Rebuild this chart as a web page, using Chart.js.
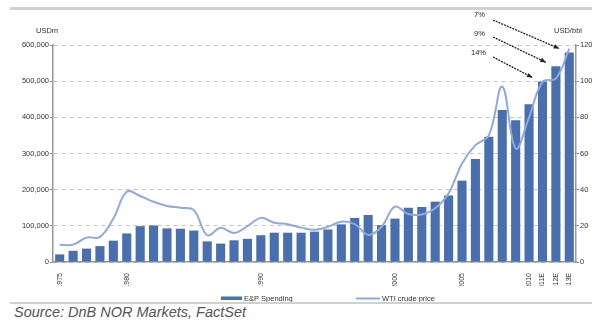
<!DOCTYPE html>
<html>
<head>
<meta charset="utf-8">
<script src="https://cdn.jsdelivr.net/npm/chart.js@4.4.0/dist/chart.umd.min.js"></script>
<style>
  body { margin: 0; background: #fff; width: 592px; height: 322px; overflow: hidden; position: relative; }
  #chart { position: absolute; left: 0; top: 0; }
  .rule { position: absolute; left: 10px; width: 582px; background: #d0d0d0; }
  #src { position: absolute; left: 14px; top: 304px; font: italic 14.5px "Liberation Sans", Arial, sans-serif; color: #555; }
</style>
</head>
<body>
<div class="rule" style="top:7px;height:3px"></div>
<canvas id="chart" width="592" height="302"></canvas>
<div class="rule" style="top:302px;height:2px"></div>
<div id="src">Source: DnB NOR Markets, FactSet</div>
<script>
const years = ['1975','1976','1977','1978','1979','1980','1981','1982','1983','1984',
  '1985','1986','1987','1988','1989','1990','1991','1992','1993','1994',
  '1995','1996','1997','1998','1999','2000','2001','2002','2003','2004',
  '2005','2006','2007','2008','2009','2010','2011E','2012E','2013E'];
const shownYears = ['1975','1980','1990','2000','2005','2010','2011E','2012E','2013E'];

// E&P spending, USDm
const spending = [21000,31000,37000,44000,59000,79000,99000,101000,93000,92000,
  87000,57000,51000,60000,64000,74000,81000,81000,81000,84000,
  90000,104000,122000,130000,102000,120000,150000,152000,167000,184000,
  225000,285000,346000,420000,392000,436000,499000,541000,579000];

// WTI crude price, USD/bbl
const wti = [9.6,9.6,13.5,13.9,24,38.9,36.5,33.3,31,30,
  28.7,14.8,18.9,16.1,19.8,24.4,21.7,20.9,19,17.8,
  19.5,22.3,21,15,19.5,30.6,26.5,26.3,29.7,38,
  54.5,64.6,70,97,62.8,80,99.6,101.5,118];

// growth callouts pointing at the last three bars
const growthLabels = ['7%','9%','14%'];
const growthYears = ['2013E','2012E','2011E'];

const barColor = '#4a6fae';
const lineColor = '#8fa9e0';
const FONT = '"Liberation Sans", Arial, sans-serif';

const extras = {
  id: 'extras',
  afterDatasetsDraw(chart) {
    const ctx = chart.ctx;
    const meta = chart.getDatasetMeta(1);
    ctx.save();
    ctx.font = '7.5px ' + FONT;
    ctx.fillStyle = '#222';
    ctx.textBaseline = 'middle';
    const starts = [[493, 20, 474, 15], [493, 37, 474, 34], [493, 57, 471, 53]];
    growthYears.forEach((yr, k) => {
      const bar = meta.data[years.indexOf(yr)];
      const ex = bar.x - 10, ey = bar.y - 4;
      const [sx, sy, tx, ty] = starts[k];
      ctx.fillText(growthLabels[k], tx, ty);
      ctx.strokeStyle = '#222';
      ctx.lineWidth = 1.3;
      ctx.setLineDash([2, 1]);
      ctx.beginPath();
      ctx.moveTo(sx, sy);
      ctx.lineTo(ex, ey);
      ctx.stroke();
      ctx.setLineDash([]);
      const a = Math.atan2(ey - sy, ex - sx);
      ctx.beginPath();
      ctx.moveTo(ex, ey);
      ctx.lineTo(ex - 6 * Math.cos(a - 0.4), ey - 6 * Math.sin(a - 0.4));
      ctx.lineTo(ex - 6 * Math.cos(a + 0.4), ey - 6 * Math.sin(a + 0.4));
      ctx.closePath();
      ctx.fill();
    });
    ctx.restore();
  },
  afterDraw(chart) {
    const ctx = chart.ctx;
    const ds = chart.data.datasets;
    ctx.save();
    ctx.font = '7.5px ' + FONT;
    ctx.fillStyle = '#333';
    ctx.textBaseline = 'middle';
    ctx.textAlign = 'center';
    ctx.fillText('USDm', 47, 31);
    ctx.fillText('USD/bbl', 568, 31);
    // legend: bars first, then line
    ctx.textAlign = 'left';
    ctx.fillStyle = barColor;
    ctx.fillRect(221, 296.5, 21, 3.5);
    ctx.fillStyle = '#333';
    ctx.fillText(ds[1].label, 244, 298.5);
    ctx.strokeStyle = lineColor;
    ctx.lineWidth = 2;
    ctx.beginPath();
    ctx.moveTo(356, 298.5);
    ctx.lineTo(380, 298.5);
    ctx.stroke();
    ctx.fillText(ds[0].label, 382, 298.5);
    ctx.restore();
  }
};

new Chart(document.getElementById('chart'), {
  data: {
    labels: years,
    datasets: [
      {
        type: 'line',
        label: 'WTI crude price',
        data: wti,
        yAxisID: 'y1',
        borderColor: lineColor,
        borderWidth: 2,
        pointRadius: 0,
        tension: 0.4,
        order: 0
      },
      {
        type: 'bar',
        label: 'E&P Spending',
        data: spending,
        yAxisID: 'y',
        backgroundColor: barColor,
        barPercentage: 0.68,
        categoryPercentage: 1,
        order: 1
      }
    ]
  },
  options: {
    responsive: false,
    animation: false,
    devicePixelRatio: 1,
    layout: { padding: { top: 45, left: 0, right: 0, bottom: 16 } },
    plugins: { legend: { display: false }, tooltip: { enabled: false } },
    scales: {
      x: {
        afterFit: s => { s.height = 24; },
        grid: { display: false },
        border: { display: true, color: '#999', width: 1.5 },
        ticks: {
          autoSkip: false, maxRotation: 90, minRotation: 90, padding: 3,
          color: '#333', font: { size: 7, family: FONT },
          callback: function(v) { const l = this.getLabelForValue(v); return shownYears.includes(l) ? l : ''; }
        }
      },
      y: {
        position: 'left',
        min: 0, max: 600000,
        afterFit: s => { s.width = 53; },
        grid: { color: 'rgba(195,190,180,0.9)', lineWidth: 1, tickLength: 3, tickColor: '#888' },
        border: { color: '#999', width: 1.5, dash: [4, 4] },
        ticks: {
          stepSize: 100000, padding: 1, color: '#333', font: { size: 7.5, family: FONT },
          callback: v => v.toLocaleString('en-US')
        }
      },
      y1: {
        position: 'right',
        min: 0, max: 120,
        afterFit: s => { s.width = 16; },
        grid: { drawOnChartArea: false, tickLength: 3, tickColor: '#888' },
        border: { color: '#999', width: 1.5 },
        ticks: { stepSize: 20, padding: 1, color: '#333', font: { size: 7.5, family: FONT } }
      }
    }
  },
  plugins: [extras]
});
</script>
</body>
</html>
